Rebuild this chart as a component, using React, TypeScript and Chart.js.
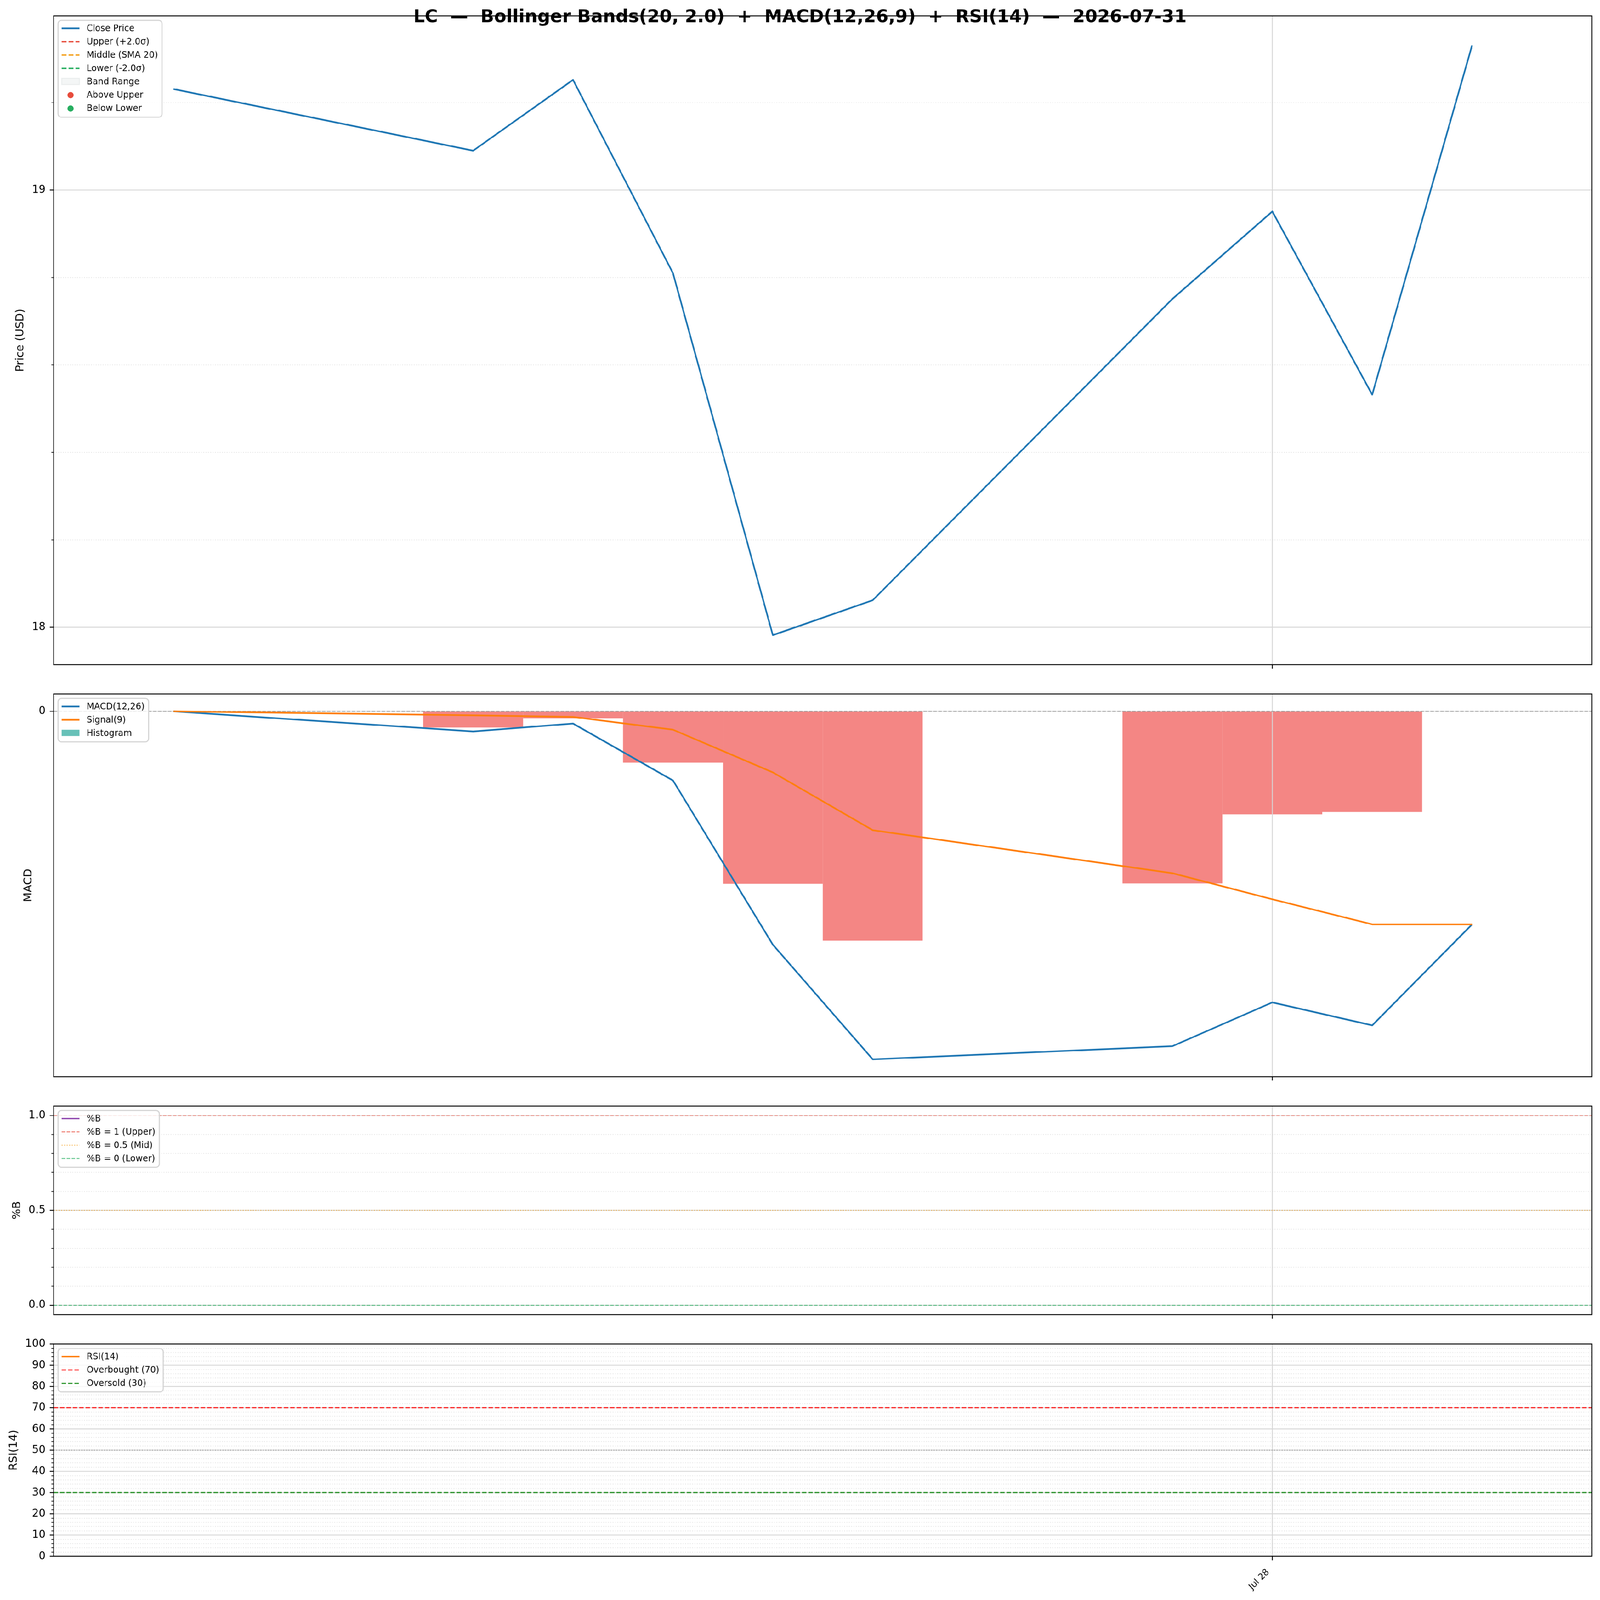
import React, { useEffect, useRef } from "react";
import { Chart, registerables } from "chart.js";

Chart.register(...registerables);

// ---------------- data ----------------
const TITLE = "LC  —  Bollinger Bands(20, 2.0)  +  MACD(12,26,9)  +  RSI(14)  —  2026-07-31";

const DATES = [
  "2026-07-17", "2026-07-20", "2026-07-21", "2026-07-22", "2026-07-23",
  "2026-07-24", "2026-07-27", "2026-07-28", "2026-07-29", "2026-07-30",
];
const CLOSE = [19.231, 19.090, 19.252, 18.810, 17.982, 18.062, 18.751, 18.951, 18.532, 19.331];
const BB_UPPER: (number | null)[] = [null, null, null, null, null, null, null, null, null, null];
const BB_MIDDLE: (number | null)[] = [null, null, null, null, null, null, null, null, null, null];
const BB_LOWER: (number | null)[] = [null, null, null, null, null, null, null, null, null, null];

const MACD_LINE = [0, -0.0112, -0.0068, -0.0385, -0.1300, -0.1939, -0.1866, -0.1622, -0.1750, -0.1187];
const SIGNAL_LINE = [0, -0.0022, -0.0031, -0.0102, -0.0340, -0.0662, -0.0902, -0.1047, -0.1187, -0.1187];
const MACD_HIST = [0, -0.0090, -0.0038, -0.0286, -0.0961, -0.1278, -0.0959, -0.0574, -0.0561, 0];

const PCT_B: (number | null)[] = [null, null, null, null, null, null, null, null, null, null];
const RSI_VALUES: (number | null)[] = [null, null, null, null, null, null, null, null, null, null];

const X_TICK_DATES = ["2026-07-28"];
const PRICE_TICKS = [18, 19];
const PRICE_MINOR = [18.2, 18.4, 18.6, 18.8, 19.2];
const MACD_TICKS = [0];
const PCTB_TICKS = [0, 0.5, 1];
const PCTB_MINOR = [0.1, 0.2, 0.3, 0.4, 0.6, 0.7, 0.8, 0.9];
const RSI_TICKS = [0, 10, 20, 30, 40, 50, 60, 70, 80, 90, 100];
const RSI_MINOR: number[] = [];
for (let v = 2; v < 100; v += 2) if (v % 10 !== 0) RSI_MINOR.push(v);

const MACD_ZERO = 0;
const PCTB_LEVELS = [1, 0.5, 0];
const RSI_LEVELS = [70, 50, 30];

// ---------------- helpers ----------------
const MONTHS = ["Jan", "Feb", "Mar", "Apr", "May", "Jun", "Jul", "Aug", "Sep", "Oct", "Nov", "Dec"];
const toDay = (s: string) => {
  const [y, m, d] = s.split("-").map(Number);
  return Date.UTC(y, m - 1, d) / 86400000;
};
const fmtDay = (v: number) => {
  const dt = new Date(Math.round(v) * 86400000);
  return `${MONTHS[dt.getUTCMonth()]} ${dt.getUTCDate()}`;
};
const DAYS = DATES.map(toDay);
const X_TICK_DAYS = X_TICK_DATES.map(toDay);
const X_SPAN = DAYS[DAYS.length - 1] - DAYS[0] + 1;
const X_MIN = DAYS[0] - 0.5 - 0.05 * X_SPAN;
const X_MAX = DAYS[DAYS.length - 1] + 0.5 + 0.05 * X_SPAN;

const padRange = (vals: number[]) => {
  const lo = Math.min(...vals);
  const hi = Math.max(...vals);
  const m = (hi - lo) * 0.05;
  return [lo - m, hi + m];
};
const [PRICE_MIN, PRICE_MAX] = padRange(CLOSE);
const [MACD_MIN, MACD_MAX] = padRange([...MACD_LINE, ...SIGNAL_LINE, ...MACD_HIST]);

const pts = (vals: (number | null)[]) => DAYS.map((d, i) => ({ x: d, y: vals[i] }));

// ---------------- style ----------------
const FONT = "DejaVu Sans";
const FIG_W = 4378;
const FIG_H = 4322;
const AX_L = 146.7;
const AX_R = 4356;
const BLUE = "#1f77b4";
const ORANGE = "#ff7f0e";
const HIST_POS = "rgba(38,166,154,0.7)";
const HIST_NEG = "rgba(239,83,80,0.7)";
const MAJOR_GRID = "#d6d6d6";
const MINOR_GRID = "#e4e4e4";

Chart.defaults.font.family = FONT;
Chart.defaults.color = "#000";

type LegendItem = {
  label: string;
  kind: "line" | "patch" | "marker";
  color: string;
  width?: number;
  dash?: number[];
  edge?: string;
};
type RefLine = { value: number; color: string; width: number; dash: number[] };

type PanelSpec = {
  key: string;
  canvasTop: number;
  canvasH: number;
  padTop: number;
  xAxisH: number;
  yMin: number;
  yMax: number;
  yTicks: number[];
  yMinor: number[];
  yFmt: (v: number) => string;
  yTitle: string;
  yTitlePad: number;
  showXLabels: boolean;
  datasets: any[];
  refs: RefLine[];
  legend: LegendItem[];
  gridAfterIndex?: number;
  title?: boolean;
};

function roundRectPath(ctx: CanvasRenderingContext2D, x: number, y: number, w: number, h: number, r: number) {
  ctx.beginPath();
  ctx.moveTo(x + r, y);
  ctx.lineTo(x + w - r, y);
  ctx.arcTo(x + w, y, x + w, y + r, r);
  ctx.lineTo(x + w, y + h - r);
  ctx.arcTo(x + w, y + h, x + w - r, y + h, r);
  ctx.lineTo(x + r, y + h);
  ctx.arcTo(x, y + h, x, y + h - r, r);
  ctx.lineTo(x, y + r);
  ctx.arcTo(x, y, x + r, y, r);
  ctx.closePath();
}

function drawGrid(chart: any, p: PanelSpec) {
  const { ctx, chartArea: a, scales } = chart;
  const x = scales.x;
  const y = scales.y;
  ctx.save();
  ctx.beginPath();
  ctx.rect(a.left, a.top, a.right - a.left, a.bottom - a.top);
  ctx.clip();
  ctx.strokeStyle = MINOR_GRID;
  ctx.lineWidth = 2.2;
  ctx.setLineDash([2.4, 4]);
  for (const v of p.yMinor) {
    const py = y.getPixelForValue(v);
    ctx.beginPath();
    ctx.moveTo(a.left, py);
    ctx.lineTo(a.right, py);
    ctx.stroke();
  }
  ctx.setLineDash([]);
  ctx.strokeStyle = MAJOR_GRID;
  ctx.lineWidth = 2.4;
  for (const v of p.yTicks) {
    const py = y.getPixelForValue(v);
    ctx.beginPath();
    ctx.moveTo(a.left, py);
    ctx.lineTo(a.right, py);
    ctx.stroke();
  }
  for (const d of X_TICK_DAYS) {
    const px = x.getPixelForValue(d);
    ctx.beginPath();
    ctx.moveTo(px, a.top);
    ctx.lineTo(px, a.bottom);
    ctx.stroke();
  }
  for (const r of p.refs) {
    const py = y.getPixelForValue(r.value);
    ctx.strokeStyle = r.color;
    ctx.lineWidth = r.width;
    ctx.setLineDash(r.dash);
    ctx.beginPath();
    ctx.moveTo(a.left, py);
    ctx.lineTo(a.right, py);
    ctx.stroke();
  }
  ctx.restore();
}

function drawFrame(chart: any, p: PanelSpec) {
  const { ctx, chartArea: a, scales } = chart;
  const x = scales.x;
  const y = scales.y;
  ctx.save();
  ctx.setLineDash([]);
  ctx.strokeStyle = "#000";
  ctx.lineWidth = 2.44;
  for (const v of p.yTicks) {
    const py = y.getPixelForValue(v);
    ctx.beginPath();
    ctx.moveTo(a.left - 10.45, py);
    ctx.lineTo(a.left, py);
    ctx.stroke();
  }
  ctx.lineWidth = 1.84;
  for (const v of p.yMinor) {
    const py = y.getPixelForValue(v);
    ctx.beginPath();
    ctx.moveTo(a.left - 6.1, py);
    ctx.lineTo(a.left, py);
    ctx.stroke();
  }
  ctx.lineWidth = 2.44;
  for (const d of X_TICK_DAYS) {
    const px = x.getPixelForValue(d);
    ctx.beginPath();
    ctx.moveTo(px, a.bottom);
    ctx.lineTo(px, a.bottom + 10.45);
    ctx.stroke();
  }
  ctx.strokeRect(a.left, a.top, a.right - a.left, a.bottom - a.top);
  ctx.restore();
}

function drawLegend(chart: any, items: LegendItem[]) {
  const { ctx, chartArea: a } = chart;
  const fs = 23.9;
  ctx.save();
  ctx.font = `${fs}px "${FONT}"`;
  const bx = a.left + 12.2;
  const by = a.top + 12.2;
  let maxW = 0;
  for (const it of items) maxW = Math.max(maxW, ctx.measureText(it.label).width);
  const bw = 78.1 + maxW + 11;
  const bh = 21.7 + (items.length - 1) * 36.1 + 23.4;
  roundRectPath(ctx, bx, by, bw, bh, 9);
  ctx.fillStyle = "rgba(255,255,255,0.8)";
  ctx.fill();
  ctx.lineWidth = 3;
  ctx.strokeStyle = "#d4d4d4";
  ctx.stroke();
  items.forEach((it, i) => {
    const cy = by + 21.7 + i * 36.1;
    const hx0 = bx + 9.8;
    const hx1 = bx + 58.6;
    if (it.kind === "line") {
      ctx.setLineDash(it.dash || []);
      ctx.lineWidth = it.width || 4.5;
      ctx.strokeStyle = it.color;
      ctx.lineCap = "butt";
      ctx.beginPath();
      ctx.moveTo(hx0, cy);
      ctx.lineTo(hx1, cy);
      ctx.stroke();
      ctx.setLineDash([]);
    } else if (it.kind === "patch") {
      ctx.fillStyle = it.color;
      ctx.fillRect(hx0, cy - 9.5, hx1 - hx0, 17);
      if (it.edge) {
        ctx.strokeStyle = it.edge;
        ctx.lineWidth = 3;
        ctx.strokeRect(hx0, cy - 9.5, hx1 - hx0, 17);
      }
    } else {
      ctx.fillStyle = it.color;
      ctx.beginPath();
      ctx.arc((hx0 + hx1) / 2, cy, 8.5, 0, Math.PI * 2);
      ctx.fill();
    }
    ctx.fillStyle = "#000";
    ctx.textAlign = "left";
    ctx.textBaseline = "middle";
    ctx.fillText(it.label, bx + 78.1, cy + 1);
  });
  ctx.restore();
}

function drawTitle(chart: any) {
  const { ctx } = chart;
  ctx.save();
  ctx.font = `bold 48.8px "${FONT}"`;
  ctx.fillStyle = "#000";
  ctx.textAlign = "center";
  ctx.textBaseline = "alphabetic";
  ctx.fillText(TITLE, FIG_W / 2, 60);
  ctx.restore();
}

function makeDecor(p: PanelSpec) {
  return {
    id: "decor_" + p.key,
    beforeDatasetsDraw(chart: any) {
      if (p.gridAfterIndex === undefined) drawGrid(chart, p);
    },
    afterDatasetDraw(chart: any, args: any) {
      if (p.gridAfterIndex === args.index) drawGrid(chart, p);
    },
    afterDraw(chart: any) {
      drawFrame(chart, p);
      drawLegend(chart, p.legend);
      if (p.title) drawTitle(chart);
    },
  };
}

function buildConfig(p: PanelSpec): any {
  return {
    type: "line",
    data: { datasets: p.datasets },
    options: {
      responsive: false,
      animation: false,
      devicePixelRatio: 1,
      events: [],
      layout: { autoPadding: false, padding: { top: p.padTop, left: 0, right: FIG_W - AX_R, bottom: 0 } },
      plugins: { legend: { display: false }, tooltip: { enabled: false }, title: { display: false } },
      scales: {
        x: {
          type: "linear",
          min: X_MIN,
          max: X_MAX,
          offset: false,
          afterBuildTicks: (s: any) => {
            s.ticks = X_TICK_DAYS.map((v) => ({ value: v }));
          },
          afterFit: (s: any) => {
            s.height = p.xAxisH;
          },
          grid: { display: false, drawTicks: false },
          border: { display: false },
          ticks: {
            display: p.showXLabels,
            autoSkip: false,
            minRotation: 45,
            maxRotation: 45,
            padding: 29,
            labelOffset: -12,
            color: "#000",
            font: { family: FONT, size: 24 },
            callback: (v: any) => fmtDay(Number(v)),
          },
        },
        y: {
          type: "linear",
          min: p.yMin,
          max: p.yMax,
          afterBuildTicks: (s: any) => {
            s.ticks = p.yTicks.map((v) => ({ value: v }));
          },
          afterFit: (s: any) => {
            s.width = AX_L;
          },
          grid: { display: false, drawTicks: false },
          border: { display: false },
          ticks: {
            autoSkip: false,
            padding: 22,
            color: "#000",
            font: { family: FONT, size: 29.3 },
            callback: (v: any) => p.yFmt(Number(v)),
          },
          title: {
            display: true,
            text: p.yTitle,
            color: "#000",
            font: { family: FONT, size: 30 },
            padding: { top: p.yTitlePad, bottom: 0 },
          },
        },
      },
    },
    plugins: [makeDecor(p)],
  };
}

const lineDs = (label: string, vals: (number | null)[], color: string, width: number, order: number, dash: number[] = []) => ({
  type: "line",
  label,
  data: pts(vals),
  borderColor: color,
  backgroundColor: color,
  borderWidth: width,
  borderDash: dash,
  pointRadius: 0,
  tension: 0,
  fill: false,
  spanGaps: false,
  borderJoinStyle: "round",
  order,
});

const BAND_DASH = [13.3, 5.7];
const THIN_DASH = [9.5, 4.1];
const DOT = [2.6, 4.3];
const RSI_DASH = [12.2, 5.3];

const PANELS: PanelSpec[] = [
  {
    key: "price",
    canvasTop: 0,
    canvasH: 1835,
    padTop: 42.7,
    xAxisH: 30.3,
    yMin: PRICE_MIN,
    yMax: PRICE_MAX,
    yTicks: PRICE_TICKS,
    yMinor: PRICE_MINOR,
    yFmt: (v) => String(Math.round(v)),
    yTitle: "Price (USD)",
    yTitlePad: 38,
    showXLabels: false,
    title: true,
    datasets: [
      lineDs("Close Price", CLOSE, BLUE, 4.5, 1),
      lineDs("Upper (+2.0σ)", BB_UPPER, "#e74c3c", 3.6, 2, BAND_DASH),
      lineDs("Middle (SMA 20)", BB_MIDDLE, "#f39c12", 3.6, 2, BAND_DASH),
      lineDs("Lower (-2.0σ)", BB_LOWER, "#27ae60", 3.6, 2, BAND_DASH),
    ],
    refs: [],
    legend: [
      { label: "Close Price", kind: "line", color: BLUE, width: 4.5 },
      { label: "Upper (+2.0σ)", kind: "line", color: "#e74c3c", width: 3.6, dash: BAND_DASH },
      { label: "Middle (SMA 20)", kind: "line", color: "#f39c12", width: 3.6, dash: BAND_DASH },
      { label: "Lower (-2.0σ)", kind: "line", color: "#27ae60", width: 3.6, dash: BAND_DASH },
      { label: "Band Range", kind: "patch", color: "rgba(149,165,166,0.1)", edge: "rgba(149,165,166,0.12)" },
      { label: "Above Upper", kind: "marker", color: "#e74c3c" },
      { label: "Below Lower", kind: "marker", color: "#27ae60" },
    ],
  },
  {
    key: "macd",
    canvasTop: 1835,
    canvasH: 1113,
    padTop: 25.8,
    xAxisH: 30.3,
    yMin: MACD_MIN,
    yMax: MACD_MAX,
    yTicks: MACD_TICKS,
    yMinor: [],
    yFmt: (v) => String(Math.round(v)),
    yTitle: "MACD",
    yTitlePad: 60,
    showXLabels: false,
    gridAfterIndex: 2,
    datasets: [
      lineDs("MACD(12,26)", MACD_LINE, BLUE, 4.5, 2),
      lineDs("Signal(9)", SIGNAL_LINE, ORANGE, 4.5, 1),
      {
        type: "bar",
        label: "Histogram",
        data: pts(MACD_HIST),
        backgroundColor: (c: any) => (c.raw && c.raw.y > 0 ? HIST_POS : HIST_NEG),
        borderWidth: 0,
        inflateAmount: 0,
        barPercentage: 1,
        categoryPercentage: 1,
        grouped: false,
        order: 3,
      },
    ],
    refs: [{ value: MACD_ZERO, color: "#8c8c8c", width: 2.6, dash: THIN_DASH }],
    legend: [
      { label: "MACD(12,26)", kind: "line", color: BLUE, width: 4.5 },
      { label: "Signal(9)", kind: "line", color: ORANGE, width: 4.5 },
      { label: "Histogram", kind: "patch", color: HIST_POS },
    ],
  },
  {
    key: "pctb",
    canvasTop: 2948,
    canvasH: 643,
    padTop: 26.5,
    xAxisH: 30.1,
    yMin: -0.05,
    yMax: 1.05,
    yTicks: PCTB_TICKS,
    yMinor: PCTB_MINOR,
    yFmt: (v) => v.toFixed(1),
    yTitle: "%B",
    yTitlePad: 29,
    showXLabels: false,
    datasets: [lineDs("%B", PCT_B, "#8e44ad", 3.6, 1)],
    refs: [
      { value: PCTB_LEVELS[0], color: "rgba(231,76,60,0.75)", width: 2.5, dash: THIN_DASH },
      { value: PCTB_LEVELS[1], color: "rgba(243,156,18,0.7)", width: 2.5, dash: DOT },
      { value: PCTB_LEVELS[2], color: "rgba(39,174,96,0.7)", width: 2.5, dash: THIN_DASH },
    ],
    legend: [
      { label: "%B", kind: "line", color: "#8e44ad", width: 3.6 },
      { label: "%B = 1 (Upper)", kind: "line", color: "rgba(231,76,60,0.75)", width: 2.5, dash: THIN_DASH },
      { label: "%B = 0.5 (Mid)", kind: "line", color: "rgba(243,156,18,0.7)", width: 2.5, dash: DOT },
      { label: "%B = 0 (Lower)", kind: "line", color: "rgba(39,174,96,0.7)", width: 2.5, dash: THIN_DASH },
    ],
  },
  {
    key: "rsi",
    canvasTop: 3591,
    canvasH: 731,
    padTop: 26,
    xAxisH: 118,
    yMin: 0,
    yMax: 100,
    yTicks: RSI_TICKS,
    yMinor: RSI_MINOR,
    yFmt: (v) => String(Math.round(v)),
    yTitle: "RSI(14)",
    yTitlePad: 20,
    showXLabels: true,
    datasets: [lineDs("RSI(14)", RSI_VALUES, ORANGE, 4.5, 1)],
    refs: [
      { value: RSI_LEVELS[0], color: "rgba(255,0,0,0.8)", width: 3.3, dash: RSI_DASH },
      { value: RSI_LEVELS[1], color: "rgba(128,128,128,0.6)", width: 2.8, dash: DOT },
      { value: RSI_LEVELS[2], color: "rgba(0,128,0,0.8)", width: 3.3, dash: RSI_DASH },
    ],
    legend: [
      { label: "RSI(14)", kind: "line", color: ORANGE, width: 4.5 },
      { label: "Overbought (70)", kind: "line", color: "rgba(255,0,0,0.8)", width: 3.3, dash: RSI_DASH },
      { label: "Oversold (30)", kind: "line", color: "rgba(0,128,0,0.8)", width: 3.3, dash: RSI_DASH },
    ],
  },
];

function PanelCanvas({ spec }: { spec: PanelSpec }) {
  const ref = useRef<HTMLCanvasElement | null>(null);
  useEffect(() => {
    if (!ref.current) return;
    const chart = new Chart(ref.current, buildConfig(spec));
    return () => chart.destroy();
  }, [spec]);
  return (
    <canvas
      ref={ref}
      width={FIG_W}
      height={spec.canvasH}
      style={{ position: "absolute", left: 0, top: spec.canvasTop, width: FIG_W, height: spec.canvasH, display: "block" }}
    />
  );
}

export default function App() {
  // the browser viewport may be smaller than the figure; fit the figure into it
  const vw = typeof window !== "undefined" ? window.innerWidth : FIG_W;
  const vh = typeof window !== "undefined" ? window.innerHeight : FIG_H;
  const sx = Math.min(1, vw / FIG_W);
  const sy = Math.min(1, vh / FIG_H);
  return (
    <div
      style={{
        position: "absolute",
        left: 0,
        top: 0,
        width: FIG_W,
        height: FIG_H,
        background: "#fff",
        overflow: "hidden",
        transform: `scale(${sx}, ${sy})`,
        transformOrigin: "0 0",
      }}
    >
      {PANELS.map((p) => (
        <PanelCanvas key={p.key} spec={p} />
      ))}
    </div>
  );
}
